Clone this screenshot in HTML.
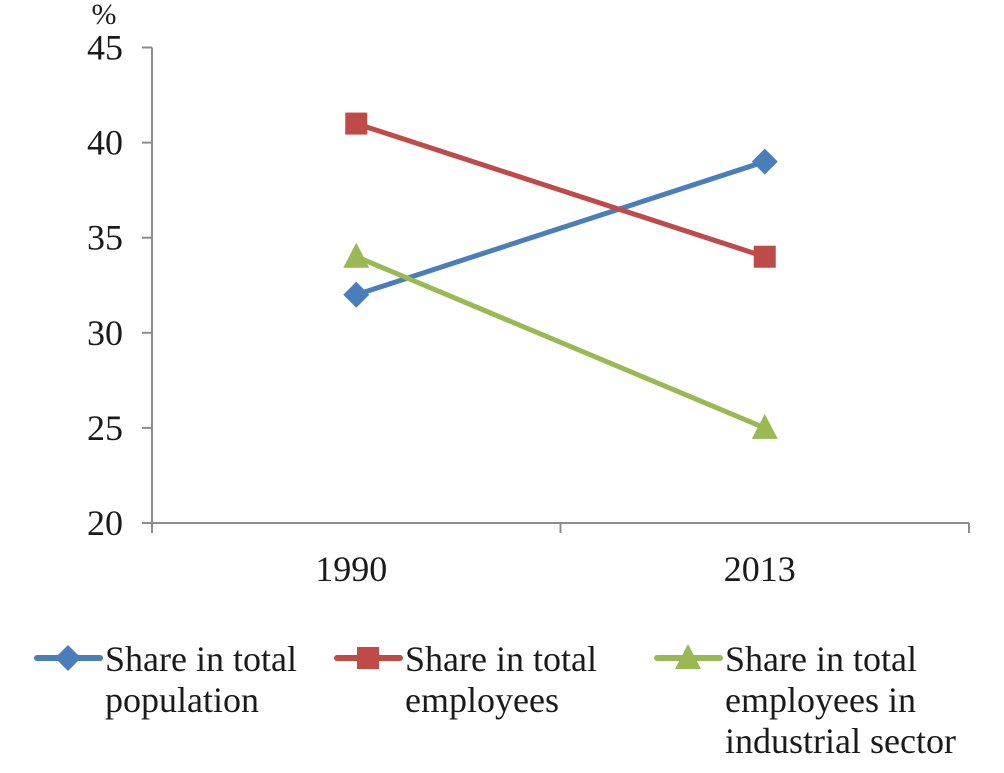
<!DOCTYPE html>
<html><head><meta charset="utf-8"><style>
html,body{margin:0;padding:0;background:#fff}
svg text{font-family:"Liberation Serif",serif;fill:#1a1a1a}
</style></head><body>
<svg id="chart" width="1004" height="768" viewBox="0 0 1004 768" xmlns="http://www.w3.org/2000/svg">
<text x="104" y="24" font-size="30" text-anchor="middle">%</text>
<g id="axes"></g>
<g id="series"></g>
<g id="legend"></g>
</svg>
<script>
const categories = ["1990", "2013"];
const yTicks = [20, 25, 30, 35, 40, 45];
const seriesNames = ["population", "employees", "industrial"];
const population = [32, 39];
const employees = [41, 34];
const industrial = [34, 25];

const NS = "http://www.w3.org/2000/svg";
const x0 = 152, x1 = 969, yTop = 47.5, yBot = 523;
const yMin = 20, yMax = 45;
function yScale(v){ return yBot - (v - yMin) / (yMax - yMin) * (yBot - yTop); }
function xScale(i){ const w = (x1 - x0) / categories.length; return x0 + w * (i + 0.5); }
function mk(tag, attrs, parent){ const e = document.createElementNS(NS, tag); for (const k in attrs) e.setAttribute(k, attrs[k]); parent.appendChild(e); return e; }

const axes = document.getElementById('axes');
const yAxis = mk('line', {x1:x0, y1:yTop, x2:x0, y2:yBot, stroke:'#8c8c8c', 'stroke-width':2}, axes);


const xAxis = mk('line', {x1:x0, y1:yBot, x2:x1, y2:yBot, stroke:'#8c8c8c', 'stroke-width':2}, axes);


yTicks.forEach(t => {
  const y = yScale(t);
  mk('line', {x1:x0-10, y1:y, x2:x0, y2:y, stroke:'#8c8c8c', 'stroke-width':2}, axes);
  const tx = mk('text', {x:123, y:y+12, 'font-size':36, 'text-anchor':'end'}, axes);
  tx.textContent = t;
  
  
});
const step = (x1 - x0) / categories.length;
for (let i = 0; i <= categories.length; i++) {
  const x = x0 + step * i;
  mk('line', {x1:x, y1:yBot, x2:x, y2:yBot+10, stroke:'#8c8c8c', 'stroke-width':2}, axes);
}
categories.forEach((c, i) => {
  const tx = mk('text', {x:xScale(i)-5, y:581, 'font-size':36, 'text-anchor':'middle'}, axes);
  tx.textContent = c;
  
  
});

function marker(shape, cx, cy, color, parent){
  if (shape === 'diamond') return mk('polygon', {points:`${cx},${cy-13} ${cx+13},${cy} ${cx},${cy+13} ${cx-13},${cy}`, fill:color}, parent);
  if (shape === 'square') return mk('rect', {x:cx-11, y:cy-11, width:22, height:22, fill:color}, parent);
  return mk('polygon', {points:`${cx},${cy-14} ${cx+13},${cy+11} ${cx-13},${cy+11}`, fill:color}, parent);
}

const defs = [
  {data:population, color:'#4a7ebb', shape:'diamond', lines:['Share in total','population'], lx:37},
  {data:employees, color:'#be4b48', shape:'square', lines:['Share in total','employees'], lx:337},
  {data:industrial, color:'#98b954', shape:'triangle', lines:['Share in total','employees in','industrial sector'], lx:657}
];
const sg = document.getElementById('series');
defs.forEach((d, si) => {
  const g = mk('g', {}, sg);
  
  
  const pts = d.data.map((v, i) => `${xScale(i)},${yScale(v)}`).join(' ');
  mk('polyline', {points:pts, fill:'none', stroke:d.color, 'stroke-width':5}, g);
  d.data.forEach((v, i) => {
    const m = marker(d.shape, xScale(i), yScale(v), d.color, g);
    
    
  });
});

const lg = document.getElementById('legend');
defs.forEach((d, si) => {
  const g = mk('g', {}, lg);
  
  
  mk('line', {x1:d.lx, y1:658, x2:d.lx+63, y2:658, stroke:d.color, 'stroke-width':6, 'stroke-linecap':'round'}, g);
  marker(d.shape, d.lx+31, 658, d.color, g);
  d.lines.forEach((t, li) => {
    const tx = mk('text', {x:d.lx+68, y:671+li*41, 'font-size':36}, g);
    tx.textContent = t;
  });
});
</script>
</body></html>
